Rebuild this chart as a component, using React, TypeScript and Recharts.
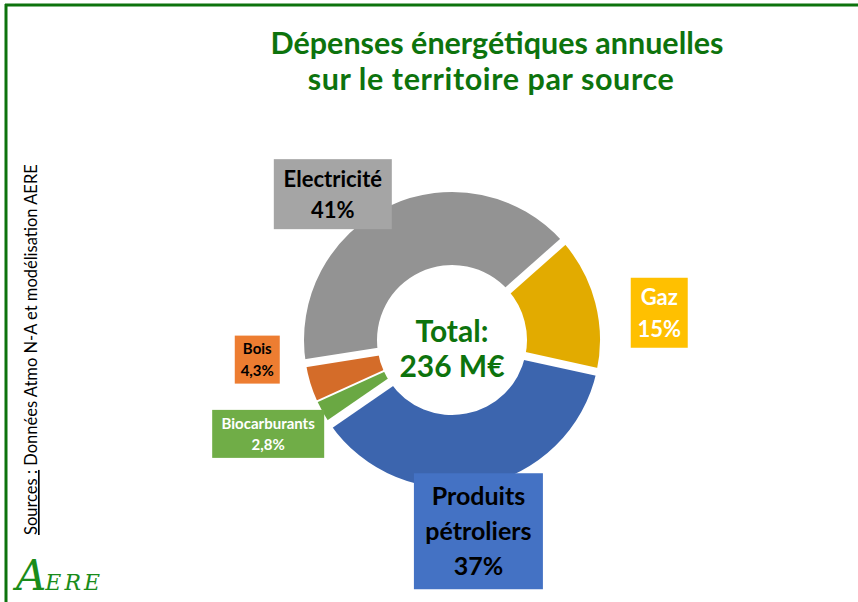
import { PieChart, Pie, Cell } from 'recharts';

const sources = ['Electricité', 'Gaz', 'Produits pétroliers', 'Biocarburants', 'Bois'];
const shares = [41, 15, 37, 2.8, 4.3];
const shareLabels = ['41%', '15%', '37%', '2,8%', '4,3%'];
const labelLines = [['Electricité'], ['Gaz'], ['Produits', 'pétroliers'], ['Biocarburants'], ['Bois']];
const totalLines = ['Total:', '236 M€'];

const data = sources.map((name, i) => ({ name, value: shares[i] }));

const sliceColors = ['#939393', '#e2ab00', '#3c65ae', '#6aa843', '#d46c29'];
const boxColors = ['#a5a5a5', '#ffc000', '#4472c4', '#70ad47', '#ed7d31'];
const textColors = ['#000', '#fff', '#000', '#fff', '#000'];
// label box placement relative to the slice's outer mid point
const labelBoxes = [
  { dx: -56, dy: -12, w: 118, h: 70, fs: 22, lh: 31 },
  { dx: 64, dy: 10, w: 57, h: 70, fs: 22, lh: 32 },
  { dx: -2, dy: 46, w: 129, h: 116, fs: 25, lh: 35 },
  { dx: -55, dy: 21, w: 112, h: 48, fs: 15, lh: 21 },
  { dx: -53, dy: -23, w: 45, h: 48, fs: 15, lh: 22 },
];
// white gap drawn at the end of each slice
const gapAfter = [8, 8, 9, 2, 8];

const GREEN = '#0d730d';
const FONT = 'Lato, "Open Sans", sans-serif';
const RAD = Math.PI / 180;

const renderLabel = (props: any) => {
  const { cx, cy, midAngle, outerRadius, innerRadius, endAngle, index } = props;
  const ax = cx + outerRadius * Math.cos(-midAngle * RAD);
  const ay = cy + outerRadius * Math.sin(-midAngle * RAD);
  const b = labelBoxes[index];
  const bx = ax + b.dx;
  const by = ay + b.dy;
  const ex = Math.cos(-endAngle * RAD);
  const ey = Math.sin(-endAngle * RAD);
  const lines = [...labelLines[index], shareLabels[index]];
  const firstY = by - ((lines.length - 1) * b.lh) / 2 + b.fs * 0.36;
  return (
    <g key={`lab-${index}`}>
      <line
        x1={cx + (innerRadius - 4) * ex}
        y1={cy + (innerRadius - 4) * ey}
        x2={cx + (outerRadius + 4) * ex}
        y2={cy + (outerRadius + 4) * ey}
        stroke="#fff"
        strokeWidth={gapAfter[index]}
      />
      <rect x={bx - b.w / 2} y={by - b.h / 2} width={b.w} height={b.h} fill={boxColors[index]} />
      <text
        textAnchor="middle"
        fontFamily={FONT}
        fontWeight={700}
        fontSize={b.fs}
        fill={textColors[index]}
      >
        {lines.map((l, k) => (
          <tspan key={k} x={bx} y={firstY + k * b.lh}>
            {l}
          </tspan>
        ))}
      </text>
    </g>
  );
};

export default function App() {
  return (
    <div style={{ position: 'absolute', left: 0, top: 0, width: 858, height: 602, background: '#fff' }}>
      <svg width={858} height={602} style={{ position: 'absolute', left: 0, top: 0 }}>
        <line x1={5} y1={5} x2={858} y2={5} stroke={GREEN} strokeWidth={3} />
        <line x1={6} y1={4} x2={6} y2={602} stroke={GREEN} strokeWidth={3} />
        <text textAnchor="middle" fontFamily={FONT} fontWeight={700} fontSize={30.5} fill={GREEN}>
          <tspan x={497} y={54}>Dépenses énergétiques annuelles</tspan>
          <tspan x={491} y={90} letterSpacing={0.6}>sur le territoire par source</tspan>
        </text>
        <text textAnchor="middle" fontFamily={FONT} fontWeight={700} fontSize={30} fill={GREEN}>
          <tspan x={452} y={342}>{totalLines[0]}</tspan>
          <tspan x={452} y={377}>{totalLines[1]}</tspan>
        </text>
        <text
          transform="translate(37,535) rotate(-90)"
          fontFamily={FONT}
          fontSize={16.5}
          fill="#000"
        >
          <tspan textDecoration="underline">Sources :</tspan>
          <tspan> Données Atmo N-A et modélisation AERE</tspan>
        </text>
        <text x={16} y={590} fontFamily='"DejaVu Serif", serif' fontStyle="italic" fill="#1a8c1a">
          <tspan fontSize={42}>A</tspan>
          <tspan fontSize={22} letterSpacing={3} dx={-1}>ERE</tspan>
        </text>
      </svg>
      <div style={{ position: 'absolute', left: 0, top: 0 }}>
        <PieChart width={858} height={602} margin={{ top: 0, right: 0, bottom: 0, left: 0 }}>
          <Pie
            data={data}
            dataKey="value"
            nameKey="name"
            cx={452}
            cy={340}
            innerRadius={75}
            outerRadius={148}
            startAngle={189}
            endAngle={-171}
            stroke="none"
            label={renderLabel}
            labelLine={false}
            isAnimationActive={false}
          >
            {data.map((d, i) => (
              <Cell key={d.name} fill={sliceColors[i]} />
            ))}
          </Pie>
        </PieChart>
      </div>
    </div>
  );
}
